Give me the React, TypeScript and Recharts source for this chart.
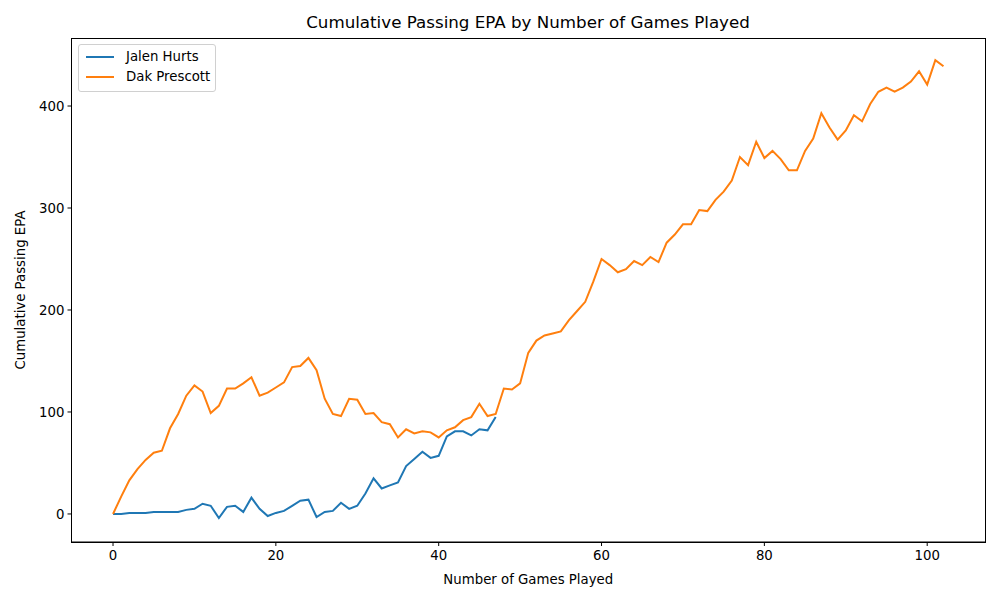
import { LineChart, Line, XAxis, YAxis } from "recharts";

const hurtsEpa = [
  0, 0, 1, 1, 1, 2, 2, 2, 2, 4, 5, 10, 8, -4, 7, 8, 2, 16, 5, -2, 1, 3, 8, 13,
  14, -3, 2, 3, 11, 5, 8, 20, 35, 25, 28, 31, 47, 54, 61, 55, 57, 76, 81, 81,
  77, 83, 82, 95,
];

const prescottEpa = [
  0, 17, 33, 44, 53, 60, 62, 84, 98, 116, 126, 120, 99, 106, 123, 123, 128,
  134, 116, 119, 124, 129, 144, 145, 153, 141, 113, 98, 96, 113, 112, 98, 99,
  90, 88, 75, 83, 79, 81, 80, 75, 82, 85, 92, 95, 108, 96, 98, 123, 122, 128,
  158, 170, 175, 177, 179, 190, 199, 208, 228, 250, 244, 237, 240, 248, 244,
  252, 247, 266, 274, 284, 284, 298, 297, 308, 316, 327, 350, 342, 365, 349,
  356, 348, 337, 337, 356, 368, 393, 379, 367, 376, 391, 385, 402, 414, 418,
  414, 418, 424, 434, 421, 445, 439,
];

const xTicks = [0, 20, 40, 60, 80, 100];
const yTicks = [0, 100, 200, 300, 400];

const data = prescottEpa.map((dak, game) => ({
  game,
  dak,
  hurts: game < hurtsEpa.length ? hurtsEpa[game] : undefined,
}));

const X_MIN = -5.1;
const X_MAX = 107.1;
const Y_MIN = -27.5;
const Y_MAX = 466.7;

const font = "DejaVu Sans, sans-serif";

const series = [
  { key: "hurts", name: "Jalen Hurts", color: "#1f77b4" },
  { key: "dak", name: "Dak Prescott", color: "#ff7f0e" },
];

function LegendBox() {
  return (
    <div
      style={{
        position: "absolute",
        left: 78,
        top: 44,
        width: 129,
        height: 44,
        border: "1px solid #d0d0d0",
        borderRadius: 3,
        background: "rgba(255,255,255,0.8)",
        fontFamily: font,
        fontSize: 13.3,
        lineHeight: "20px",
        padding: "2px 0 0 7px",
        boxSizing: "content-box",
        whiteSpace: "nowrap",
      }}
    >
      {series.map((it) => (
        <div key={it.key} style={{ display: "flex", alignItems: "center" }}>
          <span
            style={{
              display: "inline-block",
              width: 28,
              height: 2,
              background: it.color,
              marginRight: 12,
            }}
          />
          <span style={{ color: "#000" }}>{it.name}</span>
        </div>
      ))}
    </div>
  );
}

export default function App() {
  return (
    <div
      style={{
        position: "absolute",
        left: 0,
        top: 0,
        width: 1000,
        height: 600,
        background: "#fff",
      }}
    >
      <div
        style={{
          position: "absolute",
          top: 12,
          width: 1056,
          textAlign: "center",
          fontFamily: font,
          fontSize: 16.7,
          color: "#000",
        }}
      >
        Cumulative Passing EPA by Number of Games Played
      </div>
      <LineChart
        width={1000}
        height={600}
        data={data}
        margin={{ top: 38, right: 15, bottom: 0, left: 0 }}
      >
        <XAxis
          dataKey="game"
          type="number"
          domain={[X_MIN, X_MAX]}
          ticks={xTicks}
          allowDataOverflow
          height={58}
          stroke="#000"
          tickLine={{ stroke: "#000" }}
          tickSize={4}
          tickMargin={5}
          tick={{ fill: "#000", fontFamily: font, fontSize: 13.3 }}
          label={{
            value: "Number of Games Played",
            position: "insideBottom",
            offset: 16,
            fill: "#000",
            fontFamily: font,
            fontSize: 13.3,
          }}
        />
        <YAxis
          type="number"
          domain={[Y_MIN, Y_MAX]}
          ticks={yTicks}
          allowDataOverflow
          width={71.5}
          stroke="#000"
          tickLine={{ stroke: "#000" }}
          tickSize={4}
          tickMargin={3}
          tick={{ fill: "#000", fontFamily: font, fontSize: 13.3 }}
          label={{
            value: "Cumulative Passing EPA",
            angle: -90,
            position: "insideLeft",
            offset: 20,
            style: { textAnchor: "middle" },
            fill: "#000",
            fontFamily: font,
            fontSize: 13.3,
          }}
        />
        {series.map((s) => (
          <Line
            key={s.key}
            dataKey={s.key}
            name={s.name}
            stroke={s.color}
            strokeWidth={2}
            dot={false}
            isAnimationActive={false}
          />
        ))}
      </LineChart>
      <div
        style={{
          position: "absolute",
          left: 71,
          top: 38,
          width: 913,
          height: 503,
          border: "1px solid #000",
          pointerEvents: "none",
        }}
      />
      <LegendBox />
    </div>
  );
}
